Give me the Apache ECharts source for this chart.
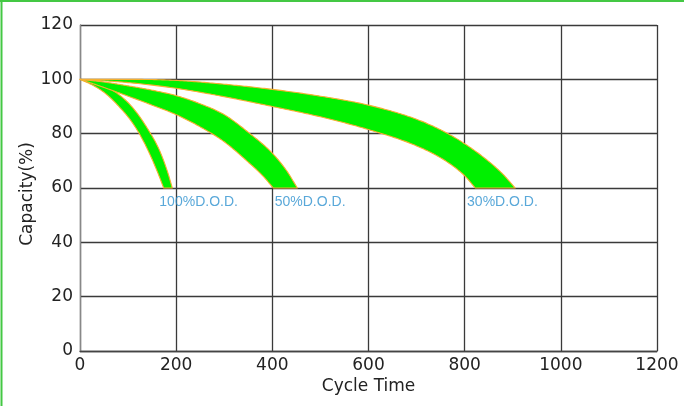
<!DOCTYPE html>
<html>
<head>
<meta charset="utf-8">
<script src="https://cdn.jsdelivr.net/npm/echarts@6/dist/echarts.min.js"></script>
<style>
html,body{margin:0;padding:0;background:#fff;}
#c{width:684px;height:406px;}
</style>
</head>
<body>
<div id="c"></div>
<script>
// Capacity (%) vs cycle time, upper/lower edges of each band
var dod100Upper = [[0,100],[40,98.3],[80,94.5],[110,89.5],[140,82],[165,74],[182,66],[192,60]];
var dod100Lower = [[0,100],[30,97.5],[55,94.5],[81,90],[105,85],[125,79.5],[145,72.5],[162,65.5],[174,60]];
var dod50Upper  = [[0,100],[50,99],[100,97.6],[150,96],[200,94],[250,91],[300,87],[350,80.5],[400,72.8],[430,66.3],[452,60]];
var dod50Lower  = [[0,100],[50,97],[100,93.8],[150,90.5],[200,87],[250,82.5],[300,77],[350,69.5],[380,64.5],[402,60]];
var dod30Upper  = [[0,100],[100,100],[200,99.6],[300,98.2],[400,96.3],[500,93.8],[600,90.5],[700,85.3],[760,80.5],[800,76.3],[850,69.8],[880,65],[905,60]];
var dod30Lower  = [[0,100],[100,98.8],[200,96.7],[300,93.6],[400,90],[500,86.2],[600,81.5],[700,75.5],[760,70],[800,64.5],[822,60]];
var bandLabels = ['100%D.O.D.','50%D.O.D.','30%D.O.D.'];
var labelX = [165, 405, 805];
var labelY = [54.8, 54.8, 54.8];
var xTicks = [0,200,400,600,800,1000,1200];
var yTicks = [0,20,40,60,80,100,120];

var chart = echarts.init(document.getElementById('c'));

// monotone cubic (Fritsch-Carlson) rendering of a curve through the read points
function smoothCurve(pts, steps) {
  var n = pts.length, xs = pts.map(function(p){return p[0];}), ys = pts.map(function(p){return p[1];});
  var d = [], m = [];
  for (var i = 0; i < n - 1; i++) d.push((ys[i+1]-ys[i])/(xs[i+1]-xs[i]));
  m[0] = d[0]; m[n-1] = d[n-2];
  for (i = 1; i < n - 1; i++) m[i] = (d[i-1]*d[i] <= 0) ? 0 : (d[i-1]+d[i])/2;
  for (i = 0; i < n - 1; i++) {
    if (d[i] === 0) { m[i] = 0; m[i+1] = 0; continue; }
    var a = m[i]/d[i], b = m[i+1]/d[i], s = a*a + b*b;
    if (s > 9) { var t = 3/Math.sqrt(s); m[i] = t*a*d[i]; m[i+1] = t*b*d[i]; }
  }
  var out = [];
  for (i = 0; i < n - 1; i++) {
    var h = xs[i+1]-xs[i];
    for (var k = 0; k < steps; k++) {
      var u = k/steps, u2 = u*u, u3 = u2*u;
      var y = (2*u3-3*u2+1)*ys[i] + (u3-2*u2+u)*h*m[i] + (-2*u3+3*u2)*ys[i+1] + (u3-u2)*h*m[i+1];
      out.push([xs[i] + u*h, y]);
    }
  }
  out.push(pts[n-1]);
  return out;
}

function bandSeries(upper, lower) {
  return {
    type: 'custom',
    coordinateSystem: 'cartesian2d',
    data: upper.concat(lower),
    z: 3,
    renderItem: function (params, api) {
      if (params.dataIndex !== 0) return null;
      var up = smoothCurve(upper, 24), lo = smoothCurve(lower, 24).reverse();
      var poly = up.concat(lo).map(function (p) { return api.coord(p); });
      return {
        type: 'polygon',
        shape: { points: poly },
        style: { fill: '#00f000', stroke: '#f5b030', lineWidth: 1.1, lineJoin: 'round' }
      };
    }
  };
}

var fam = 'DejaVu Sans';
chart.setOption({
  animation: false,
  backgroundColor: '#ffffff',
  graphic: [
    { type: 'line', shape: { x1: 1.5, y1: 0, x2: 1.5, y2: 406 }, style: { stroke: '#44c844', lineWidth: 2 } },
    { type: 'line', shape: { x1: 0, y1: 1, x2: 684, y2: 1 }, style: { stroke: '#44c844', lineWidth: 2 } }
  ],
  grid: { left: 80, right: 27, top: 25, bottom: 55 },
  xAxis: {
    type: 'value', min: xTicks[0], max: xTicks[xTicks.length - 1], interval: 200,
    name: 'Cycle Time', nameLocation: 'middle', nameGap: 27, nameMoveOverlap: false,
    nameTextStyle: { fontSize: 17, color: '#222', fontFamily: fam },
    axisLine: { lineStyle: { color: '#444', width: 1.3 } },
    axisTick: { show: false },
    axisLabel: { fontSize: 17, color: '#222', margin: 6, fontFamily: fam, formatter: function (v) { return String(v); } },
    splitLine: { show: true, lineStyle: { color: '#3a3a3a', width: 1.3 } }
  },
  yAxis: {
    type: 'value', min: yTicks[0], max: yTicks[yTicks.length - 1], interval: 20,
    name: 'Capacity(%)', nameLocation: 'middle', nameGap: 44, nameRotate: 90, nameMoveOverlap: false,
    nameTextStyle: { fontSize: 17, color: '#222', fontFamily: fam, padding: [0, 12, 0, 0] },
    axisLine: { show: true, lineStyle: { color: '#888', width: 1.3 } },
    axisTick: { show: false },
    axisLabel: { fontSize: 17, color: '#222', margin: 7, fontFamily: fam, formatter: function (v) { return String(v); } },
    splitLine: { show: true, lineStyle: { color: '#3a3a3a', width: 1.3 } }
  },
  series: [
    bandSeries(dod100Upper, dod100Lower),
    bandSeries(dod50Upper, dod50Lower),
    bandSeries(dod30Upper, dod30Lower),
    {
      type: 'scatter', symbolSize: 0, z: 5,
      data: bandLabels.map(function (n, i) { return { name: n, value: [labelX[i], labelY[i]] }; }),
      label: {
        show: true, position: 'right', distance: 0,
        formatter: function (p) { return p.name; },
        color: '#2f92d0', fontSize: 14, fontFamily: 'Liberation Sans'
      }
    }
  ]
});
</script>
</body>
</html>
